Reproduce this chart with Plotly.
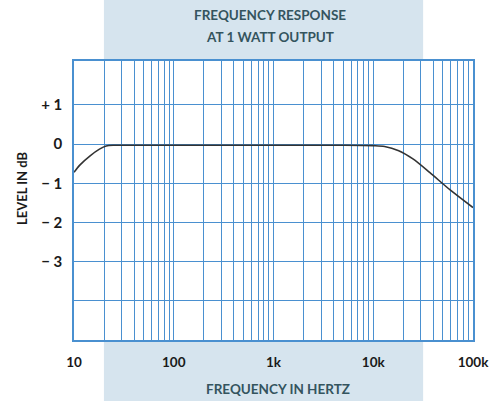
import plotly.graph_objects as go

# Data
freq_hz = [10, 11.5, 14.5, 18, 21, 25, 30, 100, 1000, 5000, 10000, 13000, 18000, 25000, 37000, 59000, 100000]
level_db = [-0.72, -0.53, -0.30, -0.13, -0.05, -0.03, -0.03, -0.03, -0.03, -0.03, -0.04, -0.06, -0.17, -0.38, -0.73, -1.17, -1.62]

x_grid_vals = [m * 10 ** d for d in range(1, 5) for m in range(1, 10)] + [100000]
x_tick_text = {10: "10", 100: "100", 1000: "1k", 10000: "10k", 100000: "100k"}
y_grid_vals = [-5, -4, -3, -2, -1, 0, 1]
y_tick_text = {1: "+ 1", 0: "0", -1: "− 1", -2: "− 2", -3: "− 3"}

GRID = "rgb(74,144,208)"
BAND = "rgb(214,228,238)"
FONT = "Lato"

fig = go.Figure()
fig.add_trace(go.Scatter(x=freq_hz, y=level_db, mode="lines",
                         line=dict(color="#333333", width=1.6, shape="spline", smoothing=0.8),
                         hoverinfo="skip"))

ann_common = dict(xref="paper", yref="paper", showarrow=False, xanchor="center", yanchor="middle")

fig.update_layout(
    width=503, height=401,
    margin=dict(l=74, r=30, t=61, b=61),
    paper_bgcolor="white", plot_bgcolor="white",
    showlegend=False,
    font=dict(family=FONT, color="#1a1a1a"),
    shapes=[
        dict(type="rect", xref="paper", yref="paper", x0=0.075, x1=0.875, y0=-0.5, y1=1.5,
             fillcolor=BAND, line=dict(width=0), layer="below"),
        dict(type="rect", xref="paper", yref="paper", x0=0, x1=1, y0=0, y1=1,
             fillcolor="white", line=dict(width=0), layer="below"),
    ],
    annotations=[
        dict(text="<b>FREQUENCY RESPONSE</b>", x=0.491, y=1.165,
             font=dict(size=13.5, color="#34545e", family=FONT), **ann_common),
        dict(text="<b>AT 1 WATT OUTPUT</b>", x=0.491, y=1.086,
             font=dict(size=13.5, color="#34545e", family=FONT), **ann_common),
        dict(text="<b>FREQUENCY IN HERTZ</b>", x=0.511, y=-0.176,
             font=dict(size=13.5, color="#34545e", family=FONT), **ann_common),
        dict(text="<b>LEVEL IN dB</b>", x=-0.13, y=0.545, textangle=-90,
             font=dict(size=13, color="#1a1a1a", family=FONT), **ann_common),
    ],
)

fig.update_xaxes(
    type="log", range=[1, 5],
    tickvals=x_grid_vals,
    ticktext=[("<b>" + x_tick_text[v] + "</b>") if v in x_tick_text else "" for v in x_grid_vals],
    showgrid=True, gridcolor=GRID, gridwidth=1.4,
    showline=True, linecolor=GRID, linewidth=1.6, mirror=True,
    ticks="", tickfont=dict(size=13.5, color="#1a1a1a", family=FONT),
    ticklabelstandoff=9, zeroline=False,
)
fig.update_yaxes(
    range=[-5, 2.12],
    tickvals=y_grid_vals,
    ticktext=[("<b>" + y_tick_text[v] + "</b>") if v in y_tick_text else "" for v in y_grid_vals],
    showgrid=True, gridcolor=GRID, gridwidth=1.4,
    showline=True, linecolor=GRID, linewidth=1.6, mirror=True,
    ticks="", tickfont=dict(size=15, color="#1a1a1a", family=FONT),
    ticklabelstandoff=7, zeroline=False,
)

fig.write_html("out.html", config={"displayModeBar": False},
               post_script="document.body.style.margin='0';")
